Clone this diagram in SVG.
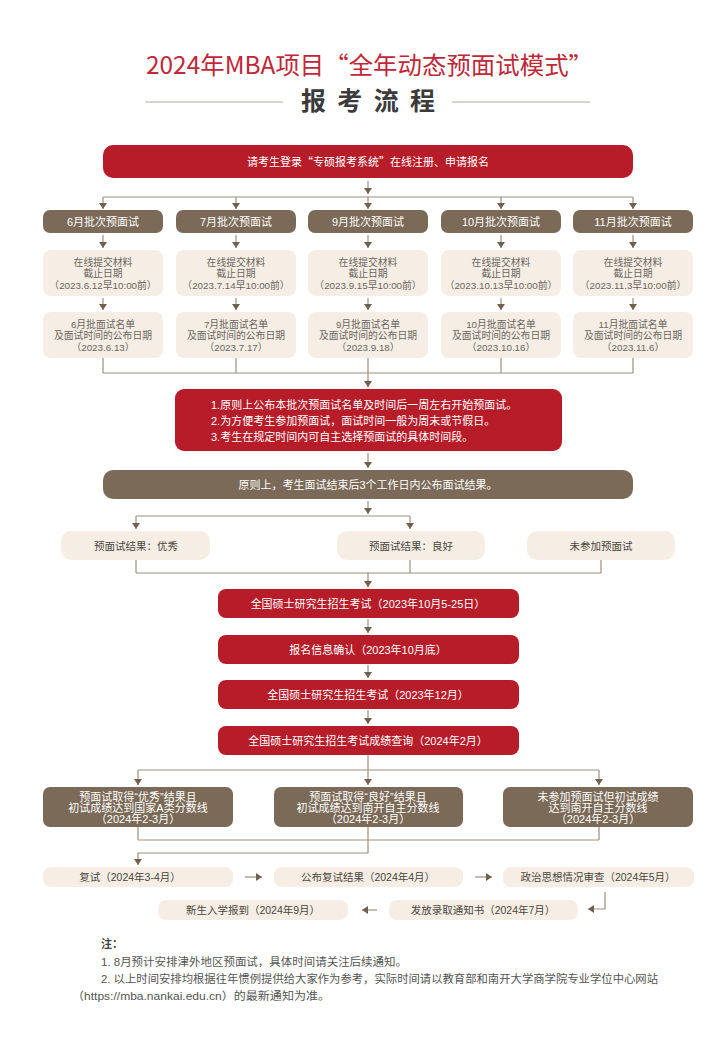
<svg xmlns="http://www.w3.org/2000/svg" width="726" height="1052" viewBox="0 0 726 1052">
<defs>
<style>
text{font-family:"Liberation Sans","Noto Sans CJK SC",sans-serif}
.cjk{font-family:"Noto Sans CJK SC","Noto Sans",sans-serif}
.red{fill:#b71c29}
.brown{fill:#7b6a57}
.cream{fill:#f6eee4}
.tw{fill:#ffffff;font-size:11px;text-anchor:middle}
.tc{fill:#6a6560;font-size:9.8px;text-anchor:middle}
.td{fill:#4a4540;font-size:10.5px;text-anchor:middle}
.cn line,.cn path{stroke:#9c8f80;stroke-width:1.2;fill:none}
.ar{marker-end:url(#ah)}
.note{fill:#555;font-size:11px}
</style>
<marker id="ah" viewBox="0 0 6 8" refX="6" refY="4" markerWidth="6" markerHeight="8" markerUnits="userSpaceOnUse" orient="auto">
<path d="M0,0 L6,4 L0,8 z" fill="#6f604f"/>
</marker>
</defs>
<rect width="726" height="1052" fill="#ffffff"/>

<g id="title">
<text class="cjk" x="146" y="74" font-size="24" fill="#c0283a" textLength="447" lengthAdjust="spacingAndGlyphs">2024年MBA项目“全年动态预面试模式”</text>
<text class="cjk" x="301" y="110" font-size="25" font-weight="bold" fill="#3b3b3b" textLength="134">报考流程</text>
<line x1="145" y1="102" x2="283" y2="102" stroke="#b5a898" stroke-width="1"/>
<line x1="452" y1="102" x2="590" y2="102" stroke="#b5a898" stroke-width="1"/>
</g>

<g class="cn" id="connectors">
<line class="ar" x1="368" y1="181" x2="368" y2="194"/>
<line x1="103" y1="197" x2="633" y2="197"/>
<line class="ar" x1="103" y1="197" x2="103" y2="209"/>
<line class="ar" x1="236" y1="197" x2="236" y2="209"/>
<line class="ar" x1="368" y1="197" x2="368" y2="209"/>
<line class="ar" x1="501" y1="197" x2="501" y2="209"/>
<line class="ar" x1="633" y1="197" x2="633" y2="209"/>
<line class="ar" x1="103" y1="235" x2="103" y2="248"/>
<line class="ar" x1="236" y1="235" x2="236" y2="248"/>
<line class="ar" x1="368" y1="235" x2="368" y2="248"/>
<line class="ar" x1="501" y1="235" x2="501" y2="248"/>
<line class="ar" x1="633" y1="235" x2="633" y2="248"/>
<line class="ar" x1="103" y1="298" x2="103" y2="310"/>
<line class="ar" x1="236" y1="298" x2="236" y2="310"/>
<line class="ar" x1="368" y1="298" x2="368" y2="310"/>
<line class="ar" x1="501" y1="298" x2="501" y2="310"/>
<line class="ar" x1="633" y1="298" x2="633" y2="310"/>
<line x1="103" y1="358" x2="103" y2="373"/>
<line x1="236" y1="358" x2="236" y2="373"/>
<line x1="368" y1="358" x2="368" y2="373"/>
<line x1="501" y1="358" x2="501" y2="373"/>
<line x1="633" y1="358" x2="633" y2="373"/>
<line x1="103" y1="373" x2="633" y2="373"/>
<line class="ar" x1="368" y1="373" x2="368" y2="387"/>
<line class="ar" x1="368" y1="453" x2="368" y2="468"/>
<line class="ar" x1="368" y1="501" x2="368" y2="514"/>
<line x1="136" y1="516" x2="410" y2="516"/>
<line class="ar" x1="136" y1="516" x2="136" y2="529"/>
<line class="ar" x1="410" y1="516" x2="410" y2="529"/>
<line x1="136" y1="560" x2="136" y2="573"/>
<line x1="410" y1="560" x2="410" y2="573"/>
<line x1="601" y1="560" x2="601" y2="573"/>
<line x1="136" y1="573" x2="601" y2="573"/>
<line class="ar" x1="368" y1="573" x2="368" y2="587"/>
<line class="ar" x1="368" y1="619" x2="368" y2="633"/>
<line class="ar" x1="368" y1="665" x2="368" y2="678"/>
<line class="ar" x1="368" y1="710" x2="368" y2="724"/>
<line x1="368" y1="755" x2="368" y2="770"/>
<line x1="138" y1="770" x2="599" y2="770"/>
<line class="ar" x1="138" y1="770" x2="138" y2="785"/>
<line class="ar" x1="368" y1="770" x2="368" y2="785"/>
<line class="ar" x1="599" y1="770" x2="599" y2="785"/>
<line x1="138" y1="827" x2="138" y2="840"/>
<line x1="368" y1="827" x2="368" y2="840"/>
<line x1="599" y1="827" x2="599" y2="840"/>
<line x1="138" y1="840" x2="599" y2="840"/>
<path class="ar" d="M368,840 V853 H138 V865"/>
<line class="ar" x1="245" y1="877" x2="262" y2="877"/>
<line class="ar" x1="475" y1="877" x2="492" y2="877"/>
<line class="ar" x1="377" y1="910" x2="362" y2="910"/>
<path class="ar" d="M605,892 V909 H588"/>
</g>

<g id="n-register">
<rect class="red" x="103" y="145" width="530" height="33" rx="10"/>
<text class="tw cjk" x="368" y="166">请考生登录“专硕报考系统”在线注册、申请报名</text>
</g>

<g id="n-batch6"><rect class="brown" x="43" y="210" width="120" height="23" rx="7"/><text class="tw" x="103" y="225.5" font-size="11.5">6月批次预面试</text></g>
<g id="n-batch7"><rect class="brown" x="176" y="210" width="120" height="23" rx="7"/><text class="tw" x="236" y="225.5" font-size="11.5">7月批次预面试</text></g>
<g id="n-batch9"><rect class="brown" x="308" y="210" width="120" height="23" rx="7"/><text class="tw" x="368" y="225.5" font-size="11.5">9月批次预面试</text></g>
<g id="n-batch10"><rect class="brown" x="441" y="210" width="120" height="23" rx="7"/><text class="tw" x="501" y="225.5" font-size="11.5">10月批次预面试</text></g>
<g id="n-batch11"><rect class="brown" x="573" y="210" width="120" height="23" rx="7"/><text class="tw" x="633" y="225.5" font-size="11.5">11月批次预面试</text></g>

<g id="n-deadline6"><rect class="cream" x="43" y="250" width="120" height="46" rx="8"/>
<text class="tc" y="266"><tspan x="103">在线提交材料</tspan><tspan x="103" dy="11.3">截止日期</tspan><tspan x="103" dy="11.3">（2023.6.12早10:00前）</tspan></text></g>
<g id="n-deadline7"><rect class="cream" x="176" y="250" width="120" height="46" rx="8"/>
<text class="tc" y="266"><tspan x="236">在线提交材料</tspan><tspan x="236" dy="11.3">截止日期</tspan><tspan x="236" dy="11.3">（2023.7.14早10:00前）</tspan></text></g>
<g id="n-deadline9"><rect class="cream" x="308" y="250" width="120" height="46" rx="8"/>
<text class="tc" y="266"><tspan x="368">在线提交材料</tspan><tspan x="368" dy="11.3">截止日期</tspan><tspan x="368" dy="11.3">（2023.9.15早10:00前）</tspan></text></g>
<g id="n-deadline10"><rect class="cream" x="441" y="250" width="120" height="46" rx="8"/>
<text class="tc" y="266"><tspan x="501">在线提交材料</tspan><tspan x="501" dy="11.3">截止日期</tspan><tspan x="501" dy="11.3">（2023.10.13早10:00前）</tspan></text></g>
<g id="n-deadline11"><rect class="cream" x="573" y="250" width="120" height="46" rx="8"/>
<text class="tc" y="266"><tspan x="633">在线提交材料</tspan><tspan x="633" dy="11.3">截止日期</tspan><tspan x="633" dy="11.3">（2023.11.3早10:00前）</tspan></text></g>

<g id="n-list6"><rect class="cream" x="43" y="312" width="120" height="46" rx="8"/>
<text class="tc" y="327.5"><tspan x="103">6月批面试名单</tspan><tspan x="103" dy="11.6">及面试时间的公布日期</tspan><tspan x="103" dy="11.6">（2023.6.13）</tspan></text></g>
<g id="n-list7"><rect class="cream" x="176" y="312" width="120" height="46" rx="8"/>
<text class="tc" y="327.5"><tspan x="236">7月批面试名单</tspan><tspan x="236" dy="11.6">及面试时间的公布日期</tspan><tspan x="236" dy="11.6">（2023.7.17）</tspan></text></g>
<g id="n-list9"><rect class="cream" x="308" y="312" width="120" height="46" rx="8"/>
<text class="tc" y="327.5"><tspan x="368">9月批面试名单</tspan><tspan x="368" dy="11.6">及面试时间的公布日期</tspan><tspan x="368" dy="11.6">（2023.9.18）</tspan></text></g>
<g id="n-list10"><rect class="cream" x="441" y="312" width="120" height="46" rx="8"/>
<text class="tc" y="327.5"><tspan x="501">10月批面试名单</tspan><tspan x="501" dy="11.6">及面试时间的公布日期</tspan><tspan x="501" dy="11.6">（2023.10.16）</tspan></text></g>
<g id="n-list11"><rect class="cream" x="573" y="312" width="120" height="46" rx="8"/>
<text class="tc" y="327.5"><tspan x="633">11月批面试名单</tspan><tspan x="633" dy="11.6">及面试时间的公布日期</tspan><tspan x="633" dy="11.6">（2023.11.6）</tspan></text></g>

<g id="n-rules">
<rect class="red" x="175" y="389" width="387" height="62" rx="9"/>
<text fill="#fff" font-size="11" y="409"><tspan x="211">1.原则上公布本批次预面试名单及时间后一周左右开始预面试。</tspan><tspan x="211" dy="16">2.为方便考生参加预面试，面试时间一般为周末或节假日。</tspan><tspan x="211" dy="15.5">3.考生在规定时间内可自主选择预面试的具体时间段。</tspan></text>
</g>

<g id="n-announce">
<rect class="brown" x="103" y="470" width="530" height="29" rx="10"/>
<text class="tw" x="368" y="488.5">原则上，考生面试结束后3个工作日内公布面试结果。</text>
</g>

<g id="n-excellent"><rect class="cream" x="61" y="531" width="149" height="29" rx="10"/><text class="td" x="136" y="549.5">预面试结果：优秀</text></g>
<g id="n-good"><rect class="cream" x="337" y="531" width="148" height="29" rx="10"/><text class="td" x="411" y="549.5">预面试结果：良好</text></g>
<g id="n-absent"><rect class="cream" x="527" y="531" width="148" height="29" rx="10"/><text class="td" x="601" y="549.5">未参加预面试</text></g>

<g id="n-exam-reg"><rect class="red" x="218" y="589" width="301" height="29" rx="8"/><text class="tw" x="368" y="607.5">全国硕士研究生招生考试（2023年10月5-25日）</text></g>
<g id="n-confirm"><rect class="red" x="218" y="635" width="301" height="29" rx="8"/><text class="tw" x="368" y="653.5">报名信息确认（2023年10月底）</text></g>
<g id="n-exam"><rect class="red" x="218" y="680" width="301" height="29" rx="8"/><text class="tw" x="368" y="698.5">全国硕士研究生招生考试（2023年12月）</text></g>
<g id="n-score"><rect class="red" x="218" y="726" width="301" height="29" rx="8"/><text class="tw" x="368" y="744.5">全国硕士研究生招生考试成绩查询（2024年2月）</text></g>

<g id="n-caseA"><rect class="brown" x="43" y="787" width="190" height="40" rx="7"/>
<text class="tw" font-size="9.8" y="800.5"><tspan x="138">预面试取得“优秀”结果且</tspan><tspan x="138" dy="11">初试成绩达到国家A类分数线</tspan><tspan x="138" dy="11">（2024年2-3月）</tspan></text></g>
<g id="n-caseB"><rect class="brown" x="274" y="787" width="189" height="40" rx="7"/>
<text class="tw" font-size="9.8" y="800.5"><tspan x="368">预面试取得“良好”结果且</tspan><tspan x="368" dy="11">初试成绩达到南开自主分数线</tspan><tspan x="368" dy="11">（2024年2-3月）</tspan></text></g>
<g id="n-caseC"><rect class="brown" x="503" y="787" width="190" height="40" rx="7"/>
<text class="tw" font-size="9.8" y="800.5"><tspan x="598">未参加预面试但初试成绩</tspan><tspan x="598" dy="11">达到南开自主分数线</tspan><tspan x="598" dy="11">（2024年2-3月）</tspan></text></g>

<g id="n-retest"><rect class="cream" x="43" y="867" width="190" height="20" rx="8"/><text class="td" x="130" y="881">复试（2024年3-4月）</text></g>
<g id="n-result"><rect class="cream" x="274" y="867" width="189" height="20" rx="8"/><text class="td" x="368" y="881">公布复试结果（2024年4月）</text></g>
<g id="n-political"><rect class="cream" x="503" y="867" width="191" height="20" rx="8"/><text class="td" x="598" y="881">政治思想情况审查（2024年5月）</text></g>
<g id="n-notice"><rect class="cream" x="389" y="900" width="189" height="20" rx="8"/><text class="td" x="483" y="914">发放录取通知书（2024年7月）</text></g>
<g id="n-enroll"><rect class="cream" x="158" y="900" width="190" height="20" rx="8"/><text class="td" x="253" y="914">新生入学报到（2024年9月）</text></g>

<g id="notes">
<text x="101" y="948" font-size="11" font-weight="bold" fill="#444">注：</text>
<text class="note" x="101" y="966" textLength="306" lengthAdjust="spacingAndGlyphs">1. 8月预计安排津外地区预面试，具体时间请关注后续通知。</text>
<text class="note" x="101" y="983" textLength="557" lengthAdjust="spacingAndGlyphs">2. 以上时间安排均根据往年惯例提供给大家作为参考，实际时间请以教育部和南开大学商学院专业学位中心网站</text>
<text class="note" x="72" y="1000" textLength="258" lengthAdjust="spacingAndGlyphs">（https://mba.nankai.edu.cn）的最新通知为准。</text>
</g>
</svg>
